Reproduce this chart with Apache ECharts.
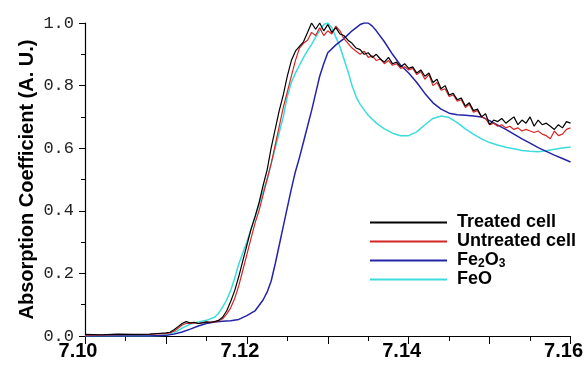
<!DOCTYPE html>
<html>
<head>
<meta charset="utf-8">
<script src="https://cdn.jsdelivr.net/npm/echarts@6/dist/echarts.min.js"></script>
<style>
  html, body { margin: 0; padding: 0; background: #fff; }
  #chart { width: 586px; height: 374px; }
</style>
</head>
<body>
<div id="chart"></div>
<script>
// energy (keV) vs normalised absorption
const treated = [
  [7.100, 0.005], [7.102, 0.004], [7.104, 0.006], [7.106, 0.005], [7.108, 0.006], [7.109, 0.008],
  [7.110, 0.010], [7.1105, 0.012], [7.111, 0.020], [7.1115, 0.030], [7.112, 0.040], [7.1125, 0.046],
  [7.113, 0.042], [7.1135, 0.044], [7.114, 0.040], [7.1145, 0.042], [7.115, 0.045], [7.1155, 0.044],
  [7.116, 0.046], [7.1165, 0.050], [7.117, 0.060], [7.1175, 0.080], [7.118, 0.110], [7.1185, 0.145],
  [7.119, 0.190], [7.1195, 0.240], [7.120, 0.290], [7.1205, 0.340], [7.121, 0.380], [7.1215, 0.425],
  [7.122, 0.480], [7.1225, 0.530], [7.123, 0.600], [7.1235, 0.660], [7.124, 0.720], [7.1245, 0.770],
  [7.125, 0.830], [7.1255, 0.880], [7.126, 0.910], [7.1265, 0.925], [7.127, 0.940], [7.1275, 0.970],
  [7.128, 1.000], [7.1285, 0.980], [7.129, 1.000], [7.1295, 0.975], [7.130, 0.995], [7.1305, 0.970],
  [7.131, 0.985], [7.1315, 0.965], [7.132, 0.960], [7.1325, 0.945], [7.133, 0.935], [7.1335, 0.920],
  [7.134, 0.915], [7.1345, 0.900], [7.135, 0.905], [7.1355, 0.890], [7.136, 0.900], [7.1365, 0.885],
  [7.137, 0.875], [7.1375, 0.890], [7.138, 0.870], [7.1385, 0.875], [7.139, 0.860], [7.1395, 0.870],
  [7.140, 0.855], [7.1405, 0.860], [7.141, 0.840], [7.1415, 0.850], [7.142, 0.830], [7.1425, 0.840],
  [7.143, 0.810], [7.1435, 0.820], [7.144, 0.790], [7.1445, 0.800], [7.145, 0.770], [7.1455, 0.775],
  [7.146, 0.755], [7.1465, 0.760], [7.147, 0.735], [7.1475, 0.745], [7.148, 0.720], [7.1485, 0.725],
  [7.149, 0.700], [7.1495, 0.710], [7.150, 0.675], [7.1505, 0.690], [7.151, 0.685], [7.1515, 0.695],
  [7.152, 0.680], [7.1525, 0.690], [7.153, 0.700], [7.1535, 0.675], [7.154, 0.690], [7.1545, 0.680],
  [7.155, 0.700], [7.1555, 0.670], [7.156, 0.690], [7.1565, 0.675], [7.157, 0.680], [7.1575, 0.670],
  [7.158, 0.660], [7.1585, 0.675], [7.159, 0.665], [7.1595, 0.685], [7.160, 0.680]
];

const untreated = [
  [7.100, 0.003], [7.104, 0.004], [7.108, 0.005], [7.110, 0.008], [7.1105, 0.010], [7.111, 0.015],
  [7.1115, 0.025], [7.112, 0.035], [7.1125, 0.040], [7.113, 0.040], [7.1135, 0.042], [7.114, 0.040],
  [7.1145, 0.043], [7.115, 0.044], [7.1155, 0.044], [7.116, 0.045], [7.1165, 0.048], [7.117, 0.055],
  [7.1175, 0.070], [7.118, 0.090], [7.1185, 0.120], [7.119, 0.160], [7.1195, 0.210], [7.120, 0.260],
  [7.1205, 0.310], [7.121, 0.360], [7.1215, 0.400], [7.122, 0.450], [7.1225, 0.500], [7.123, 0.550],
  [7.1235, 0.610], [7.124, 0.670], [7.1245, 0.730], [7.125, 0.780], [7.1255, 0.830], [7.126, 0.880],
  [7.1265, 0.920], [7.127, 0.935], [7.1275, 0.945], [7.128, 0.970], [7.1285, 0.960], [7.129, 0.985],
  [7.1295, 0.960], [7.130, 0.975], [7.1305, 0.965], [7.131, 0.990], [7.1315, 0.975], [7.132, 0.950],
  [7.1325, 0.935], [7.133, 0.920], [7.1335, 0.910], [7.134, 0.900], [7.1345, 0.910], [7.135, 0.890],
  [7.1355, 0.895], [7.136, 0.880], [7.1365, 0.885], [7.137, 0.870], [7.1375, 0.880], [7.138, 0.865],
  [7.1385, 0.870], [7.139, 0.855], [7.1395, 0.860], [7.140, 0.850], [7.1405, 0.855], [7.141, 0.835],
  [7.1415, 0.845], [7.142, 0.820], [7.1425, 0.835], [7.143, 0.800], [7.1435, 0.810], [7.144, 0.785],
  [7.1445, 0.790], [7.145, 0.765], [7.1455, 0.770], [7.146, 0.750], [7.1465, 0.755], [7.147, 0.730],
  [7.1475, 0.740], [7.148, 0.715], [7.1485, 0.720], [7.149, 0.700], [7.1495, 0.695], [7.150, 0.675],
  [7.1505, 0.680], [7.151, 0.670], [7.1515, 0.675], [7.152, 0.665], [7.1525, 0.670], [7.153, 0.660],
  [7.1535, 0.665], [7.154, 0.655], [7.1545, 0.660], [7.155, 0.655], [7.1555, 0.650], [7.156, 0.655],
  [7.1565, 0.645], [7.157, 0.640], [7.1575, 0.630], [7.158, 0.655], [7.1585, 0.640], [7.159, 0.645],
  [7.1595, 0.660], [7.160, 0.665]
];

const fe2o3 = [
  [7.100, 0.000], [7.102, 0.000], [7.104, 0.000], [7.106, 0.000], [7.108, 0.000], [7.110, 0.002],
  [7.111, 0.006], [7.112, 0.013], [7.113, 0.022], [7.114, 0.032], [7.115, 0.040], [7.116, 0.045],
  [7.117, 0.047], [7.118, 0.049], [7.119, 0.053], [7.120, 0.065], [7.121, 0.080], [7.122, 0.115],
  [7.1225, 0.140], [7.123, 0.175], [7.1235, 0.230], [7.124, 0.290], [7.1245, 0.350], [7.125, 0.410],
  [7.1255, 0.470], [7.126, 0.525], [7.1265, 0.570], [7.127, 0.620], [7.1275, 0.670], [7.128, 0.720],
  [7.1285, 0.775], [7.129, 0.830], [7.1295, 0.870], [7.130, 0.905], [7.131, 0.930], [7.132, 0.950],
  [7.133, 0.975], [7.134, 0.995], [7.1345, 1.000], [7.135, 1.000], [7.1355, 0.990], [7.136, 0.975],
  [7.137, 0.940], [7.138, 0.900], [7.139, 0.865], [7.140, 0.840], [7.141, 0.810], [7.142, 0.775],
  [7.143, 0.745], [7.144, 0.725], [7.145, 0.712], [7.146, 0.707], [7.147, 0.705], [7.148, 0.703],
  [7.149, 0.700], [7.150, 0.688], [7.151, 0.674], [7.152, 0.660], [7.153, 0.645], [7.154, 0.630],
  [7.155, 0.616], [7.156, 0.602], [7.157, 0.590], [7.158, 0.578], [7.159, 0.567], [7.160, 0.556]
];

const feo = [
  [7.100, 0.000], [7.104, 0.000], [7.108, 0.000], [7.110, 0.002], [7.111, 0.010], [7.112, 0.025],
  [7.113, 0.038], [7.114, 0.045], [7.115, 0.050], [7.116, 0.060], [7.1165, 0.072], [7.117, 0.092],
  [7.1175, 0.115], [7.118, 0.145], [7.1185, 0.185], [7.119, 0.230], [7.1195, 0.265], [7.120, 0.300],
  [7.1205, 0.340], [7.121, 0.380], [7.1215, 0.420], [7.122, 0.460], [7.1225, 0.500], [7.123, 0.550],
  [7.1235, 0.600], [7.124, 0.650], [7.1245, 0.700], [7.125, 0.765], [7.1255, 0.810], [7.126, 0.840],
  [7.1265, 0.865], [7.127, 0.890], [7.1275, 0.912], [7.128, 0.932], [7.1285, 0.955], [7.129, 0.975],
  [7.1295, 0.995], [7.130, 1.000], [7.1305, 0.985], [7.131, 0.955], [7.1315, 0.925], [7.132, 0.885],
  [7.1325, 0.845], [7.133, 0.800], [7.1335, 0.765], [7.134, 0.740], [7.135, 0.705], [7.136, 0.680],
  [7.137, 0.662], [7.138, 0.648], [7.139, 0.640], [7.140, 0.640], [7.141, 0.652], [7.142, 0.675],
  [7.143, 0.695], [7.144, 0.703], [7.145, 0.698], [7.146, 0.682], [7.147, 0.662], [7.148, 0.645],
  [7.149, 0.630], [7.150, 0.618], [7.151, 0.610], [7.152, 0.603], [7.153, 0.598], [7.154, 0.593],
  [7.155, 0.590], [7.156, 0.589], [7.157, 0.592], [7.158, 0.597], [7.159, 0.601], [7.160, 0.604]
];

const legendNames = ['Treated cell', 'Untreated cell', 'Fe2O3', 'FeO'];

const chart = echarts.init(document.getElementById('chart'));

const line = (name, data, color, width) => ({
  name: name,
  type: 'line',
  data: data,
  showSymbol: false,
  symbol: 'none',
  lineStyle: { color: color, width: width },
  itemStyle: { color: color },
  animation: false
});

chart.setOption({
  animation: false,
  grid: { left: 85, right: 13, top: 23, bottom: 38 },
  legend: {
    data: legendNames,
    orient: 'vertical',
    left: 370,
    top: 213,
    icon: 'rect',
    itemWidth: 77,
    itemHeight: 2,
    itemGap: 0,
    padding: 0,
    formatter: (name) => name === 'Fe2O3' ? 'Fe{s|2}O{s|3}' : name,
    textStyle: {
      fontFamily: 'Liberation Sans',
      fontWeight: 'bold',
      fontSize: 18,
      lineHeight: 19,
      color: '#000',
      padding: [0, 0, 0, 5],
      rich: {
        s: { fontFamily: 'Liberation Sans', fontWeight: 'bold', fontSize: 12, lineHeight: 19, verticalAlign: 'bottom', color: '#000' }
      }
    }
  },
  xAxis: {
    type: 'value',
    min: 7.10,
    max: 7.16,
    interval: 0.01,
    splitLine: { show: false },
    axisLine: { onZero: false, lineStyle: { color: '#000', width: 1.2 } },
    axisTick: { length: 8, lineStyle: { color: '#000' } },
    minorTick: { show: true, splitNumber: 2, length: 5, lineStyle: { color: '#000' } },
    axisLabel: {
      margin: 5,
      padding: [0, 14, 0, 0],
      fontFamily: 'Liberation Sans',
      fontWeight: 'bold',
      fontSize: 20,
      color: '#000',
      formatter: (v, i) => (i % 2 === 0 ? v.toFixed(2) : '')
    }
  },
  yAxis: {
    type: 'value',
    min: 0,
    max: 1.0,
    interval: 0.2,
    name: 'Absorption Coefficient (A. U.)',
    nameLocation: 'middle',
    nameGap: 48,
    nameMoveOverlap: false,
    nameTextStyle: { fontFamily: 'Liberation Sans', fontWeight: 'bold', fontSize: 20, color: '#000' },
    splitLine: { show: false },
    axisLine: { show: true, lineStyle: { color: '#000', width: 1.2 } },
    axisTick: { show: true, length: 6, lineStyle: { color: '#000' } },
    minorTick: { show: true, splitNumber: 2, length: 4, lineStyle: { color: '#000' } },
    axisLabel: {
      margin: 11,
      fontFamily: 'Liberation Mono',
      fontSize: 17,
      color: '#222',
      formatter: (v) => v.toFixed(1)
    }
  },
  series: [
    line('FeO', feo, '#3ddcdc', 1.5),
    line('Fe2O3', fe2o3, '#2424a8', 1.5),
    line('Untreated cell', untreated, '#d42626', 1.2),
    line('Treated cell', treated, '#000000', 1.2)
  ]
});
</script>
</body>
</html>
